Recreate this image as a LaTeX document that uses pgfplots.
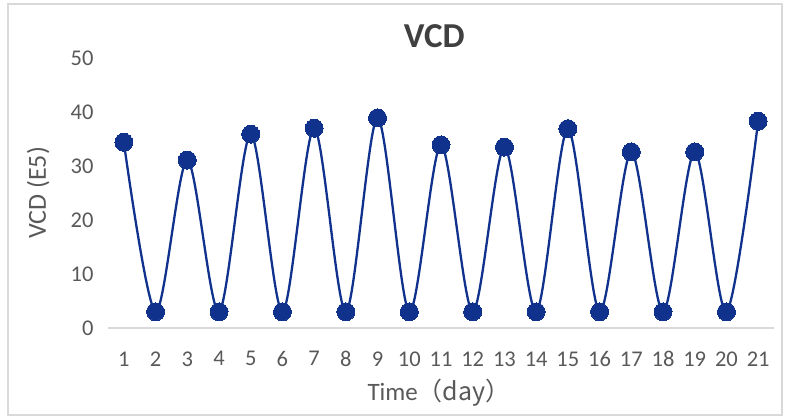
\documentclass[border=0pt]{standalone}
\usepackage{pgfplots}
\pgfplotsset{compat=1.18}
\usepackage{fontspec}
\setmainfont{Carlito}
\newfontfamily\cjk{Noto Sans CJK SC}
\definecolor{ser}{RGB}{16,50,140}
\definecolor{tickc}{RGB}{89,89,89}
\definecolor{framec}{RGB}{217,217,217}
\definecolor{titlec}{RGB}{64,64,64}
\begin{document}
\begin{tikzpicture}[x=1bp,y=1bp]
\path[use as bounding box] (0,0) rectangle (792,417);
\draw[framec, line width=1.5bp] (8,2) rectangle (782,413);
\begin{axis}[
  at={(108bp,89bp)}, anchor=south west,
  scale only axis, width=666bp, height=270bp,
  xmin=0.5, xmax=21.5, ymin=0, ymax=50,
  clip=false,
  axis x line*=bottom, axis y line*=left,
  x axis line style={draw=framec, line width=1.5bp, -},
  y axis line style={draw=none},
  xtick={1,...,21}, ytick={0,10,...,50},
  major tick length=0pt, tick style={draw=none},
  /pgf/number format/assume math mode=true,
  xticklabel style={font=\fontsize{22.5bp}{26bp}\selectfont, text=tickc, yshift=-20bp},
  yticklabel style={font=\fontsize{22.5bp}{26bp}\selectfont, text=tickc, xshift=-11bp},
  xlabel={Time\cjk{（}day\cjk{）}},
  ylabel={VCD (E5)},
  xlabel style={font=\fontsize{25bp}{28bp}\selectfont, text=tickc,
    at={(axis description cs:0.497,0)}, anchor=center, yshift=-65bp},
  ylabel style={font=\fontsize{26bp}{30bp}\selectfont, text=tickc,
    at={(axis description cs:-0.105,0.5)}, anchor=center},
  title={\bfseries VCD},
  title style={at={(axis description cs:0.49,1)}, anchor=center, yshift=16bp,
    font=\fontsize{35bp}{40bp}\selectfont, text=titlec},
]
\addplot[ser, line width=2.3bp, smooth, mark=*, mark size=9bp,
  mark options={fill=ser, draw=ser, line width=0pt}] coordinates {
(1,34.4) (2,3) (3,31.1) (4,3) (5,35.9) (6,3) (7,37.0) (8,3) (9,38.9) (10,3)
(11,33.9) (12,3) (13,33.5) (14,3) (15,36.9) (16,3) (17,32.6) (18,3) (19,32.6) (20,3) (21,38.3)
};
\end{axis}
\end{tikzpicture}
\end{document}
